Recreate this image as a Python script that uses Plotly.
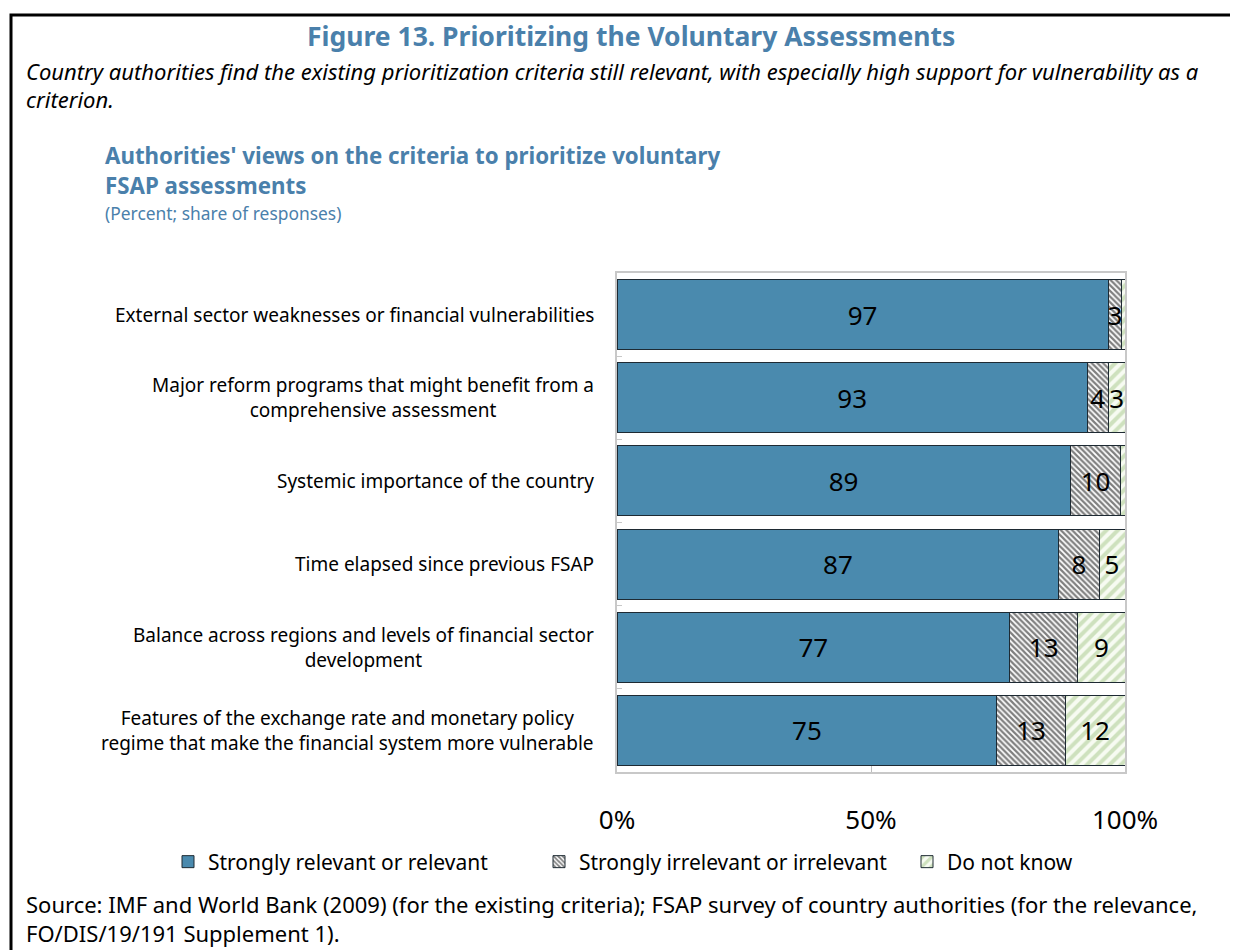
import plotly.graph_objects as go

categories = [
    "External sector weaknesses or financial vulnerabilities",
    "Major reform programs that might benefit from a<br>comprehensive assessment",
    "Systemic importance of the country",
    "Time elapsed since previous FSAP",
    "Balance across regions and levels of financial sector<br>development",
    "Features of the exchange rate and monetary policy<br>regime that make the financial system more vulnerable",
]
series_names = ["Strongly relevant or relevant", "Strongly irrelevant or irrelevant", "Do not know"]
relevant = [96.7, 92.6, 89.2, 87.0, 77.3, 74.8]
irrelevant = [2.6, 4.1, 10.0, 7.9, 13.4, 13.4]
dont_know = [0.7, 3.3, 0.8, 5.1, 9.3, 11.8]
x_tickvals = [0, 50, 100]
x_ticktext = ["0%", "50%", "100%"]

FONT = "Noto Sans"
BLUE_T = "#4a80ab"

# page body offset of 8px; geometry below in screenshot pixels
OFF = 8
L, R, T, B = 617, 1125, 273, 772
W, H = 1238 - OFF, 950 - OFF
def px(x):
    return (x - L) / (R - L)
def py(y):
    return (B - y) / (B - T)

def labels(vals):
    return [f"{v:.0f}" if v >= 1 else "" for v in vals]

fig = go.Figure()
fig.add_trace(go.Bar(
    y=categories, x=relevant, orientation="h", name=series_names[0],
    marker=dict(color="#4a8aae", line=dict(color="#1e2a33", width=1)),
    text=labels(relevant), legend="legend",
))
fig.add_trace(go.Bar(
    y=categories, x=irrelevant, orientation="h", name=series_names[1],
    marker=dict(color="white", line=dict(color="#1e2a33", width=1),
                pattern=dict(shape="\\", fgcolor="#000000", bgcolor="white", size=4, solidity=0.55)),
    text=labels(irrelevant), legend="legend2",
))
fig.add_trace(go.Bar(
    y=categories, x=dont_know, orientation="h", name=series_names[2],
    marker=dict(color="white", line=dict(color="#1e2a33", width=1),
                pattern=dict(shape="/", fgcolor="#a6c789", bgcolor="#f7fbf2", size=8, solidity=0.5)),
    text=labels(dont_know), legend="legend3",
))
fig.update_traces(textposition="inside", insidetextanchor="middle", textangle=0,
                  constraintext="none",
                  textfont=dict(family=FONT, size=26, color="black"),
                  hoverinfo="skip")

def leg(xpix):
    return dict(orientation="h", x=px(xpix), xanchor="left", y=py(862), yanchor="middle",
                font=dict(family=FONT, size=21, color="black"), bgcolor="rgba(0,0,0,0)",
                itemclick=False, itemdoubleclick=False)

fig.update_layout(
    width=W, height=H,
    margin=dict(l=L - OFF, r=W - (R - OFF), t=T - OFF, b=H - (B - OFF), pad=0),
    barmode="stack", bargap=0.16,
    plot_bgcolor="white", paper_bgcolor="white",
    font=dict(family=FONT, color="black"),
    uniformtext=dict(minsize=26, mode="show"),
    showlegend=True,
    legend=leg(168), legend2=leg(539), legend3=leg(907),
)
fig.update_xaxes(range=[0, 100], tickvals=x_tickvals, ticktext=x_ticktext,
                 tickfont=dict(family=FONT, size=26, color="black"),
                 ticks="inside", ticklen=6, tickcolor="#bdbdbd",
                 showline=True, linecolor="#c8c8c8", linewidth=1.5, mirror=True,
                 showgrid=False, zeroline=False, ticklabelstandoff=24, fixedrange=True)
fig.update_yaxes(categoryorder="array", categoryarray=categories, autorange="reversed",
                 showticklabels=False, ticks="inside", ticklen=5, tickcolor="#c8c8c8",
                 tickson="boundaries",
                 showline=True, linecolor="#c8c8c8", linewidth=1.5, mirror=True,
                 showgrid=False, zeroline=False, fixedrange=True)

ann = []
for c in categories:
    ann.append(dict(x=px(596), xref="paper", y=c, yref="y", text=c, showarrow=False,
                    xanchor="right", yanchor="middle", align="center",
                    font=dict(family=FONT, size=19, color="black")))

def txt(x, y, text, size, color="black", bold=False, italic=False, anchor="left"):
    t = text
    if bold:
        t = f"<b>{t}</b>"
    if italic:
        t = f"<i>{t}</i>"
    ann.append(dict(x=px(x), xref="paper", y=py(y), yref="paper", text=t, showarrow=False,
                    xanchor=anchor, yanchor="middle", align="left",
                    font=dict(family=FONT, size=size, color=color)))

txt(631, 36, "Figure 13. Prioritizing the Voluntary Assessments", 26.5, BLUE_T, bold=True, anchor="center")
txt(24, 71, "Country authorities find the existing prioritization criteria still relevant, with especially high support for vulnerability as a", 22, italic=True)
txt(24, 99, "criterion.", 22, italic=True)
txt(103, 155, "Authorities' views on the criteria to prioritize voluntary", 22.3, BLUE_T, bold=True)
txt(103, 185, "FSAP assessments", 22.3, BLUE_T, bold=True)
txt(103, 213, "(Percent; share of responses)", 17.4, BLUE_T)
txt(24, 918, "Source: IMF and World Bank (2009) (for the existing criteria); FSAP survey of country authorities (for the relevance,"
    "<br>FO/DIS/19/191 Supplement 1).", 22)
fig.update_layout(annotations=ann)

# outer frame of the figure box
fig.add_shape(type="rect", xref="paper", yref="paper",
              x0=px(11), x1=px(1260), y0=py(975), y1=py(15),
              line=dict(color="black", width=3), fillcolor="rgba(0,0,0,0)", layer="below")

fig.write_html("out.html", config={"displayModeBar": False})
